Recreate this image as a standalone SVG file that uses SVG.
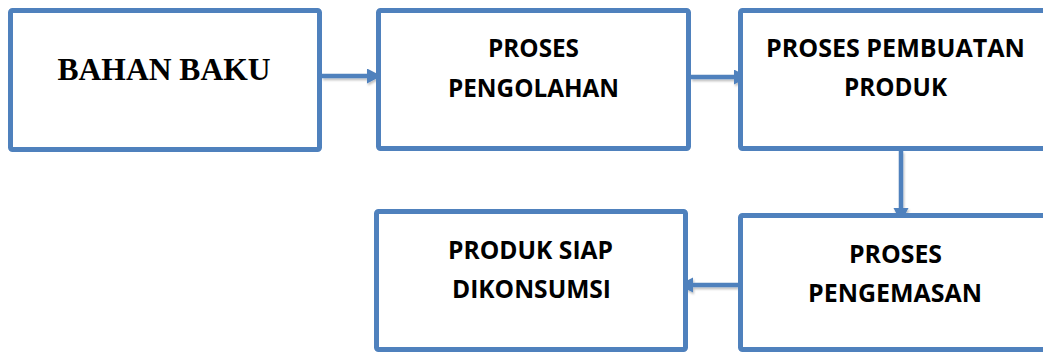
<svg xmlns="http://www.w3.org/2000/svg" width="1043" height="352" viewBox="0 0 1043 352">
<style>
.box{fill:#fff;stroke:#4F81BD;stroke-width:5}
.t{font-family:"Open Sans","Liberation Sans",sans-serif;font-weight:bold;font-size:25.5px;fill:#000;text-anchor:middle}
.tt{font-family:"Liberation Serif","Times New Roman",serif;font-weight:bold;font-size:31.5px;fill:#000;text-anchor:middle}
.c{fill:none;stroke:#4F81BD;stroke-width:4.5}
</style>
<defs>
<marker id="ah" markerUnits="userSpaceOnUse" markerWidth="15" markerHeight="16" refX="0" refY="7.5" orient="auto">
<path d="M0,0 L14.5,7.5 L0,15 z" fill="#4F81BD"/>
</marker>
<filter id="sh" x="-20%" y="-50%" width="140%" height="200%">
<feDropShadow dx="1" dy="2" stdDeviation="1.2" flood-color="#000" flood-opacity="0.25"/>
</filter>
</defs>
<rect width="1043" height="352" fill="#fff"/>
<g id="connectors" filter="url(#sh)">
<line class="c" x1="322" y1="76" x2="367" y2="76" marker-end="url(#ah)"/>
<line class="c" x1="691" y1="77" x2="734" y2="77" marker-end="url(#ah)"/>
<line class="c" x1="901" y1="151" x2="901" y2="208" marker-end="url(#ah)"/>
<line class="c" x1="738" y1="285" x2="693" y2="285" marker-end="url(#ah)"/>
</g>
<g id="bahan-baku">
<rect class="box" x="10.5" y="10.5" width="309" height="139" rx="2"/>
<text class="tt" x="164" y="80" textLength="213" lengthAdjust="spacingAndGlyphs">BAHAN BAKU</text>
</g>
<g id="proses-pengolahan">
<rect class="box" x="378.5" y="10.5" width="310" height="138" rx="2"/>
<text class="t" x="533.5" y="57" textLength="91" lengthAdjust="spacingAndGlyphs">PROSES</text>
<text class="t" x="533.5" y="97" textLength="171" lengthAdjust="spacingAndGlyphs">PENGOLAHAN</text>
</g>
<g id="proses-pembuatan-produk">
<rect class="box" x="740.5" y="10.5" width="400" height="138" rx="2"/>
<text class="t" x="895.5" y="57" textLength="259" lengthAdjust="spacingAndGlyphs">PROSES PEMBUATAN</text>
<text class="t" x="895.5" y="96" textLength="103" lengthAdjust="spacingAndGlyphs">PRODUK</text>
</g>
<g id="proses-pengemasan">
<rect class="box" x="740.5" y="215.5" width="400" height="134" rx="2"/>
<text class="t" x="895.5" y="263" textLength="93" lengthAdjust="spacingAndGlyphs">PROSES</text>
<text class="t" x="895" y="302" textLength="174" lengthAdjust="spacingAndGlyphs">PENGEMASAN</text>
</g>
<g id="produk-siap-dikonsumsi">
<rect class="box" x="376.5" y="211.5" width="309" height="138" rx="2"/>
<text class="t" x="530.5" y="259" textLength="165" lengthAdjust="spacingAndGlyphs">PRODUK SIAP</text>
<text class="t" x="531.5" y="298" textLength="159" lengthAdjust="spacingAndGlyphs">DIKONSUMSI</text>
</g>
</svg>
